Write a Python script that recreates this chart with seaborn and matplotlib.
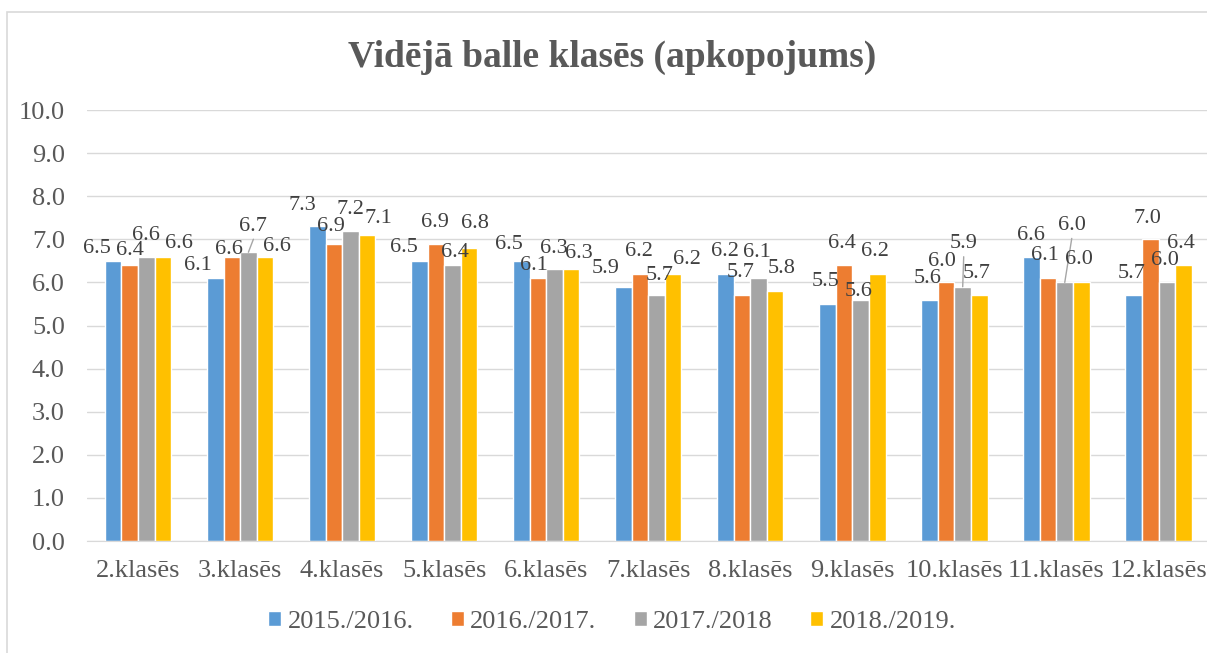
import matplotlib
matplotlib.use("Agg")
import matplotlib.pyplot as plt
import seaborn as sns
import pandas as pd
from matplotlib.patches import Rectangle

classes = ["2.klasēs", "3.klasēs", "4.klasēs", "5.klasēs", "6.klasēs", "7.klasēs",
           "8.klasēs", "9.klasēs", "10.klasēs", "11.klasēs", "12.klasēs"]
years = ["2015./2016.", "2016./2017.", "2017./2018", "2018./2019."]
y2015 = [6.5, 6.1, 7.3, 6.5, 6.5, 5.9, 6.2, 5.5, 5.6, 6.6, 5.7]
y2016 = [6.4, 6.6, 6.9, 6.9, 6.1, 6.2, 5.7, 6.4, 6.0, 6.1, 7.0]
y2017 = [6.6, 6.7, 7.2, 6.4, 6.3, 5.7, 6.1, 5.6, 5.9, 6.0, 6.0]
y2018 = [6.6, 6.6, 7.1, 6.8, 6.3, 6.2, 5.8, 6.2, 5.7, 6.0, 6.4]

df = pd.DataFrame({
    "klase": classes * 4,
    "gads": [y for y in years for _ in classes],
    "balle": y2015 + y2016 + y2017 + y2018,
})

# label placement (pixel offsets from bar top, like Excel's auto layout)
lbl_dx = [
    [-16, -17, -15, -15, -12, -18, -1, -2, -2, -1, -2],
    [0, -3, -3, -1, -4, -1, -1, -2, -4, -3, -3],
    [0, 5, 0, 2, -1, 3, -2, -2, 1, 7, -2],
    [16, 12, 11, 6, 8, 14, 6, -2, -3, -2, -2],
]
lbl_dy = [
    [12, 13, 21, 13, 16, 18, 22, 22, 21, 21, 22],
    [15, 7, 17, 21, 13, 22, 23, 22, 21, 23, 21],
    [21, 26, 21, 13, 21, 20, 26, 8, 43, 57, 22],
    [13, 10, 17, 24, 16, 14, 23, 22, 22, 23, 22],
]
leaders = [(2, 1), (2, 8), (2, 9)]

colors = ["#5B9BD5", "#ED7D31", "#A5A5A5", "#FFC000"]
txt = "#595959"

sns.set_style("white")
plt.rcParams["font.family"] = ["Liberation Serif", "DejaVu Serif"]

fig = plt.figure(figsize=(12.07, 6.53), dpi=100)
ax = fig.add_axes([0.0721, 0.1715, 0.93, 0.66])
sns.barplot(data=df, x="klase", y="balle", hue="gads", palette=colors,
            width=0.65, gap=0.0, saturation=1, ax=ax)

px = 72 / fig.dpi
for s, c in enumerate(ax.containers):
    for i, bar in enumerate(c):
        xc = bar.get_x() + bar.get_width() / 2
        top = bar.get_height()
        dx, dy = lbl_dx[s][i], lbl_dy[s][i]
        ax.annotate(f"{top:.1f}", (xc, top), xytext=(dx * px, dy * px),
                    textcoords="offset points", ha="center", va="center",
                    fontsize=16, color="#404040")
        if (s, i) in leaders:
            ax.annotate("", (xc, top), xytext=(dx * px, (dy - 13) * px),
                        textcoords="offset points",
                        arrowprops=dict(arrowstyle="-", color="#A6A6A6", lw=1,
                                        shrinkA=0, shrinkB=0))

ax.set_ylim(0, 10)
ax.set_yticks(range(11))
ax.set_yticklabels([f"{i:.1f}" for i in range(11)])
ax.set_xlim(-0.5, len(classes) - 0.5)
ax.grid(axis="y", color="#D9D9D9", linewidth=1)
ax.set_axisbelow(True)
for s in ["top", "right", "left"]:
    ax.spines[s].set_visible(False)
ax.spines["bottom"].set_color("#D9D9D9")
ax.tick_params(axis="both", length=0, labelsize=19, labelcolor=txt)
ax.tick_params(axis="y", pad=16)
ax.tick_params(axis="x", pad=14)
ax.set_xlabel("")
ax.set_ylabel("")

fig.text(0.507, 0.912, "Vidējā balle klasēs (apkopojums)", ha="center", va="center",
         fontsize=27, fontweight="bold", color=txt)

handles, labels = ax.get_legend_handles_labels()
ax.legend_.remove()
fig.legend(handles, labels, loc="center", bbox_to_anchor=(0.507, 0.047), ncol=4,
           frameon=False, fontsize=19, labelcolor=txt, handlelength=0.5,
           handleheight=0.5, handletextpad=0.25, columnspacing=1.4)

fig.patches.append(Rectangle((0.0055, -0.01), 1.0, 0.992, transform=fig.transFigure,
                             fill=False, edgecolor="#D9D9D9", linewidth=1.2))

fig.savefig("out.png", dpi=100)
